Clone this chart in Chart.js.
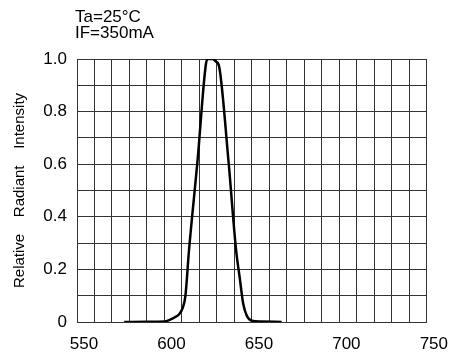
<!DOCTYPE html>
<html>
<head>
<meta charset="utf-8">
<script src="https://cdn.jsdelivr.net/npm/chart.js@4"></script>
<style>
    html, body { margin: 0; padding: 0; background: #fff; }
    #wrap { width: 453px; height: 358px; }
</style>
</head>
<body>
<div id="wrap"><canvas id="chart" width="453" height="358"></canvas></div>
<script>
// spectrum
const wavelength = [577, 590, 600, 603, 606, 608.5, 610.5, 612, 614, 619, 623.7, 625, 627.5, 629.5, 631.3, 636.5, 641, 643, 645, 647, 650, 655, 667]
const intensity  = [0, 0.001, 0.002, 0.008, 0.018, 0.03, 0.055, 0.1, 0.27, 0.62, 0.98, 1.0, 1.0, 0.99, 0.97, 0.62, 0.27, 0.17, 0.07, 0.025, 0.005, 0.002, 0]

const xTicks = [550, 600, 650, 700, 750]
const yTicks = [0, 0.2, 0.4, 0.6, 0.8, 1.0]
const notes  = ['Ta=25°C', 'IF=350mA']
const yTitle = 'Relative    Radiant    Intensity'

const FONT = "'Liberation Sans', Arial, sans-serif"
const GRID = '#333'

const notesPlugin = {
    id: 'notes',
    afterDraw(chart) {
        const ctx = chart.ctx
        ctx.save()
        ctx.fillStyle = '#000'
        ctx.font = `17px ${FONT}`
        ctx.textBaseline = 'alphabetic'
        ctx.textAlign = 'left'
        notes.forEach((line, i) => ctx.fillText(line, 75, 22 + i * 16))
        ctx.restore()
    }
}

new Chart(document.getElementById('chart'), {
    type: 'line',
    data: {
        datasets: [{
            data: wavelength.map((x, i) => ({x, y: intensity[i]})),
            borderColor: '#000',
            borderWidth: 2.5,
            pointRadius: 0,
            cubicInterpolationMode: 'monotone',
            fill: false,
        }]
    },
    options: {
        responsive: false,
        animation: false,
        layout: {padding: {top: 59, right: 24, left: 0, bottom: 0}},
        plugins: {legend: {display: false}, tooltip: {enabled: false}},
        scales: {
            x: {
                type: 'linear',
                min: 550,
                max: 750,
                afterFit: scale => { scale.height = 36 },
                ticks: {
                    stepSize: 10,
                    autoSkip: false,
                    maxRotation: 0,
                    padding: 12,
                    labelOffset: 7,
                    color: '#000',
                    font: {family: FONT, size: 17},
                    callback: v => xTicks.includes(v) ? String(v) : ''
                },
                grid: {color: GRID, lineWidth: 1, drawTicks: false},
                border: {color: GRID, width: 1}
            },
            y: {
                min: 0,
                max: 1,
                afterFit: scale => { scale.width = 77 },
                ticks: {
                    stepSize: 0.1,
                    autoSkip: false,
                    padding: 10,
                    color: '#000',
                    font: {family: FONT, size: 17},
                    callback: v => {
                        const t = yTicks.find(k => Math.abs(k - v) < 1e-6)
                        if (t === undefined) return ''
                        return t === 0 ? '0' : t.toFixed(1)
                    }
                },
                grid: {color: GRID, lineWidth: 1, drawTicks: false},
                border: {color: GRID, width: 1},
                title: {
                    display: true,
                    text: yTitle,
                    color: '#000',
                    font: {family: FONT, size: 15},
                    padding: {top: 11, bottom: 0}
                }
            }
        }
    },
    plugins: [notesPlugin]
})
</script>
</body>
</html>
